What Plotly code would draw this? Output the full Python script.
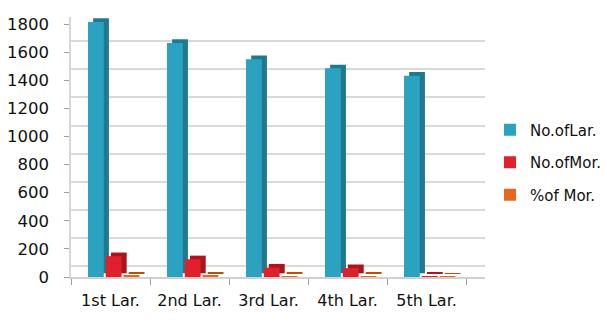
import plotly.graph_objects as go

# Larval stages and counts
stages = ["1st Lar.", "2nd Lar.", "3rd Lar.", "4th Lar.", "5th Lar."]
no_of_lar = [1815, 1665, 1550, 1485, 1432]
no_of_mor = [148, 126, 67, 63, 5]
pct_of_mor = [8.15, 7.57, 4.32, 4.24, 0.35]
y_ticks = [0, 200, 400, 600, 800, 1000, 1200, 1400, 1600, 1800]

series = [
    ("No.ofLar.", no_of_lar, "#2ba3c0", "#207a8f", -0.285),
    ("No.ofMor.", no_of_mor, "#e0202b", "#a8161e", -0.06),
    ("%of Mor.", pct_of_mor, "#e8661d", "#b84e12", 0.165),
]

BAR_W = 0.2       # bar width in category units
SIDE_DX = 0.065   # horizontal depth of the extruded side
SIDE_DY = 26      # vertical depth of the extruded top (value units)

fig = go.Figure()

# invisible trace keeps the back-wall grid subplot alive
fig.add_trace(go.Scatter(x=[stages[0]], y=[0], mode="markers",
                         marker=dict(opacity=0), showlegend=False,
                         hoverinfo="skip", xaxis="x", yaxis="y"))

for i, (name, vals, face, side, off) in enumerate(series):
    # darker extrusion behind each bar to give it depth
    fig.add_trace(go.Bar(
        x=stages, y=vals, base=[SIDE_DY] * len(vals),
        width=BAR_W, offset=off + SIDE_DX,
        marker=dict(color=side, line=dict(width=0)),
        showlegend=False, hoverinfo="skip", yaxis="y2",
    ))
    fig.add_trace(go.Bar(
        x=stages, y=vals, name=name, legendgroup=name,
        width=BAR_W, offset=off,
        marker=dict(color=face, line=dict(width=0)),
        yaxis="y2",
    ))

fig.update_layout(
    width=607, height=322,
    margin=dict(l=71, r=122, t=17, b=45, autoexpand=False),
    paper_bgcolor="white", plot_bgcolor="white",
    barmode="overlay",
    font=dict(family="DejaVu Sans", size=16, color="#111111"),
    xaxis=dict(
        type="category", range=[-0.5, 4.74], automargin=False,
        tickangle=0,
        tickson="boundaries", ticks="outside", ticklen=6,
        tickcolor="#a0a0a0", showline=True, linecolor="#d0d0d0",
        linewidth=1.5, showgrid=False, ticklabelstandoff=8,
        tickfont=dict(size=16),
    ),
    # back-wall grid, raised to suggest perspective
    yaxis=dict(
        range=[-78, 1772], tickvals=y_ticks, showticklabels=False,
        showgrid=True, gridcolor="#d9d9d9", gridwidth=1.5,
        zeroline=False, ticks="", automargin=False,
    ),
    yaxis2=dict(
        overlaying="y", side="left", range=[0, 1850], tickvals=y_ticks,
        showgrid=False, zeroline=False, ticks="outside", ticklen=5,
        tickcolor="#a0a0a0", showline=True, linecolor="#d8d8d8",
        linewidth=1.5, ticklabelstandoff=12, tickfont=dict(size=16.5),
        automargin=False,
    ),
    legend=dict(
        x=1.012, y=0.44, xanchor="left", yanchor="middle",
        font=dict(size=15), tracegroupgap=10, itemwidth=30,
        bgcolor="rgba(0,0,0,0)",
    ),
)

fig.write_html("out.html")
